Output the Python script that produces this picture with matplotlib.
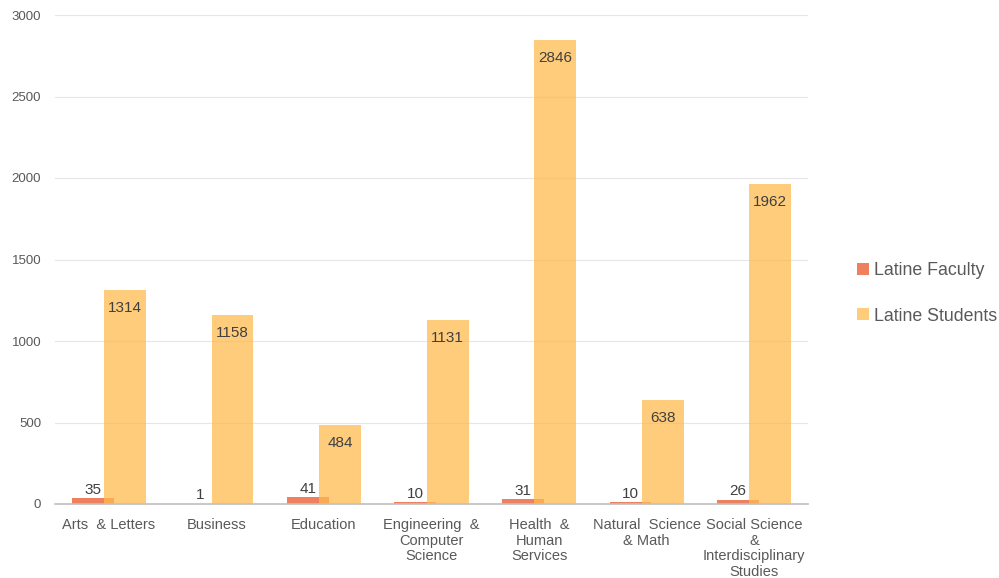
import matplotlib
matplotlib.use("Agg")
import matplotlib.pyplot as plt
from matplotlib.patches import Patch
import numpy as np

plt.rcParams['font.family'] = ['Liberation Sans', 'DejaVu Sans']

categories = ["Arts  & Letters", "Business", "Education", "Engineering  &\nComputer\nScience",
              "Health  &\nHuman\nServices", "Natural  Science\n& Math",
              "Social Science\n&\nInterdisciplinary\nStudies"]
faculty = [35, 1, 41, 10, 31, 10, 26]
students = [1314, 1158, 484, 1131, 2846, 638, 1962]
series_names = ["Latine Faculty", "Latine Students"]
yticks = [0, 500, 1000, 1500, 2000, 2500, 3000]

fac_color = '#EE7F5F'
stu_color = '#FEBB4F'
text_color = '#404040'
tick_color = '#595959'

fig = plt.figure(figsize=(9.99, 5.78), dpi=100)
ax = fig.add_axes([55/999, 74/578, 753/999, 489/578])

x = np.arange(len(categories))
w = 0.39
off = 0.15
b1 = ax.bar(x - off, faculty, width=w, color=fac_color, zorder=2)
b2 = ax.bar(x + off, students, width=w, color=stu_color, alpha=0.75, zorder=3, linewidth=0)

for rect, v in zip(b1, faculty):
    ax.annotate(str(v), (rect.get_x() + rect.get_width()/2, v), xytext=(0, 1),
                textcoords='offset points', ha='center', va='bottom', fontsize=11, color=text_color, zorder=4)
for rect, v in zip(b2, students):
    ax.annotate(str(v), (rect.get_x() + rect.get_width()/2, v), xytext=(0, -8),
                textcoords='offset points', ha='center', va='top', fontsize=11, color=text_color, zorder=4)

ax.set_xlim(-0.5, len(categories) - 0.5)
ax.set_ylim(0, 3000)
ax.set_yticks(yticks)
ax.set_yticklabels([str(t) for t in yticks], fontsize=9.5, color=tick_color)
ax.set_xticks(x)
ax.set_xticklabels(categories, fontsize=10.5, color=tick_color, linespacing=1.15)
ax.tick_params(axis='both', length=0)
ax.tick_params(axis='y', pad=10)
ax.tick_params(axis='x', pad=10)
ax.grid(axis='y', color='#E6E6E6', linewidth=0.8, zorder=0)
ax.set_axisbelow(True)
for s in ['top', 'right', 'left']:
    ax.spines[s].set_visible(False)
ax.spines['bottom'].set_color('#BFBFBF')
ax.spines['bottom'].set_linewidth(1.2)

handles = [Patch(facecolor=fac_color), Patch(facecolor=stu_color, alpha=0.75)]
fig.legend(handles, series_names, loc='upper left', bbox_to_anchor=(850/999, 1 - 255/578),
           frameon=False, fontsize=12.8, labelcolor=tick_color, handlelength=0.65, handleheight=0.65,
           handletextpad=0.3, labelspacing=1.6, borderaxespad=0)

fig.savefig('out.png', dpi=100)
